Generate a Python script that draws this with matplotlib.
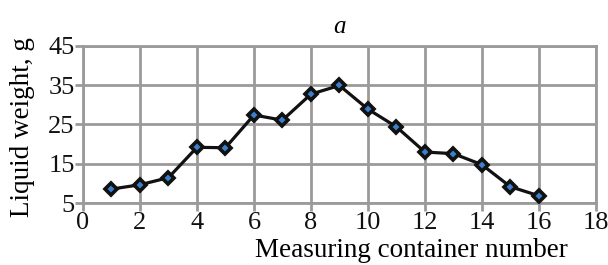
import numpy as np
import matplotlib
matplotlib.use("Agg")
import matplotlib.pyplot as plt

# container number vs liquid weight
container = [1, 2, 3, 4, 5, 6, 7, 8, 9, 10, 11, 12, 13, 14, 15, 16]
weight = [8.6, 9.7, 11.5, 19.2, 19.1, 27.4, 26.1, 32.7, 34.9,
          28.9, 24.4, 18.0, 17.6, 14.8, 9.2, 6.9]

x_ticks = [0, 2, 4, 6, 8, 10, 12, 14, 16, 18]
y_ticks = [5, 15, 25, 35, 45]

plt.rcParams['font.family'] = ['Liberation Serif', 'DejaVu Serif']

fig = plt.figure(figsize=(6.08, 2.65), dpi=100)
ax = fig.add_axes([0.1365, 0.233, 0.8435, 0.5945])

grid_col = '#9a9a9a'
ax.plot(container, weight, color='#111111', lw=2.3, zorder=3)
ax.plot(container, weight, ls='none', marker='D', ms=6, mfc='#3b7fcf',
        mec='#111111', mew=2.6, zorder=4)

ax.set_xlim(0, 18)
ax.set_ylim(5, 45)
ax.set_xticks(x_ticks)
ax.set_yticks(y_ticks)
ax.grid(True, color=grid_col, lw=2)
ax.set_axisbelow(True)
for s in ax.spines.values():
    s.set_color(grid_col)
    s.set_linewidth(2)

ax.tick_params(axis='both', colors=grid_col, length=6, width=2,
               labelcolor='#111111', labelsize=19, pad=0)

ax.set_ylabel('Liquid weight, g', fontsize=19.5)
ax.yaxis.set_label_coords(-0.094, 0.484)
ax.set_xlabel('Measuring container number', fontsize=19.5)
ax.xaxis.set_label_coords(0.641, -0.222)
ax.set_title('a', fontsize=18, style='italic', pad=9)

fig.savefig('out.png', dpi=100)
